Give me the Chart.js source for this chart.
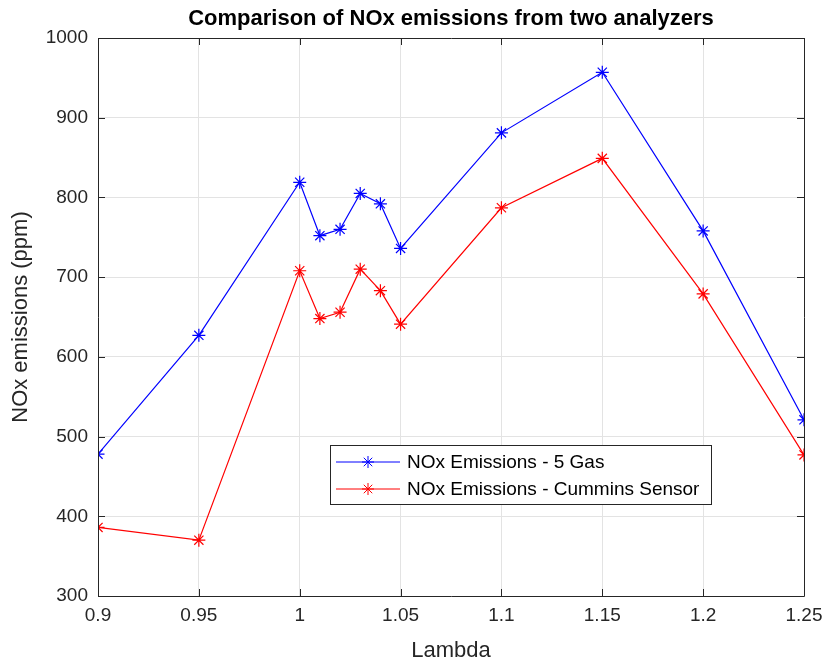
<!DOCTYPE html>
<html>
<head>
<meta charset="utf-8">
<script src="https://cdn.jsdelivr.net/npm/chart.js@4.4.1/dist/chart.umd.min.js"></script>
<style>
  html, body { margin: 0; padding: 0; background: #fff; }
  #wrap { width: 824px; height: 664px; }
</style>
</head>
<body>
<div id="wrap"><canvas id="noxChart" width="824" height="664"></canvas></div>
<script>
// data
const lambda = [0.9, 0.95, 1.0, 1.01, 1.02, 1.03, 1.04, 1.05, 1.1, 1.15, 1.2, 1.25];
const fiveGas = [478, 627, 819, 752, 760, 805, 792, 736, 881, 957, 758, 521];
const cummins = [386, 370, 708, 648, 656, 710, 683, 641, 787, 849, 679, 477];
const xTicks = [0.9, 0.95, 1, 1.05, 1.1, 1.15, 1.2, 1.25];
const yTicks = [300, 400, 500, 600, 700, 800, 900, 1000];
const chartTitle = 'Comparison of NOx emissions from two analyzers';

const axisColor = '#262626';
const gridColor = '#e3e3e3';
const fontFam = '"Liberation Sans", Arial, sans-serif';

// title centred over the plot area, like matlab does it
const titlePlugin = {
  id: 'titlePlugin',
  afterDraw(chart) {
    const { ctx, chartArea: a } = chart;
    ctx.save();
    ctx.font = 'bold 22px ' + fontFam;
    ctx.fillStyle = '#000';
    ctx.textAlign = 'center';
    ctx.textBaseline = 'middle';
    ctx.fillText(chartTitle, (a.left + a.right) / 2, a.top - 19);
    ctx.restore();
  }
};

// box around the axes + inward tick marks
const boxPlugin = {
  id: 'boxPlugin',
  afterDatasetsDraw(chart) {
    const { ctx, chartArea: a, scales } = chart;
    ctx.save();
    ctx.strokeStyle = axisColor;
    ctx.lineWidth = 1;
    ctx.beginPath();
    ctx.rect(a.left + 0.5, a.top + 0.5, a.right - a.left, a.bottom - a.top);
    xTicks.forEach(v => {
      const px = Math.round(scales.x.getPixelForValue(v)) + 0.5;
      ctx.moveTo(px, a.bottom); ctx.lineTo(px, a.bottom - 7);
      ctx.moveTo(px, a.top); ctx.lineTo(px, a.top + 7);
    });
    yTicks.forEach(v => {
      const py = Math.round(scales.y.getPixelForValue(v)) + 0.5;
      ctx.moveTo(a.left, py); ctx.lineTo(a.left + 7, py);
      ctx.moveTo(a.right, py); ctx.lineTo(a.right - 7, py);
    });
    ctx.stroke();
    ctx.restore();
  }
};

// legend box inside the plot
const legendBox = {
  id: 'legendBox',
  afterDraw(chart) {
    const { ctx, chartArea: a } = chart;
    const x0 = a.left + 232, y0 = a.top + 407, w = 381, h = 59;
    ctx.save();
    ctx.fillStyle = '#fff';
    ctx.fillRect(x0, y0, w, h);
    ctx.strokeStyle = axisColor;
    ctx.lineWidth = 1;
    ctx.strokeRect(x0 + 0.5, y0 + 0.5, w, h);
    ctx.font = '19px ' + fontFam;
    ctx.textBaseline = 'middle';
    chart.data.datasets.forEach((ds, i) => {
      const cy = y0 + 17 + i * 27;
      ctx.strokeStyle = ds.borderColor;
      ctx.fillStyle = ds.borderColor;
      ctx.beginPath();
      ctx.moveTo(x0 + 6, cy); ctx.lineTo(x0 + 70, cy);
      ctx.stroke();
      Chart.helpers.drawPoint(ctx, { pointStyle: 'star', radius: 6, rotation: 0, borderWidth: 1.2 }, x0 + 38, cy);
      ctx.fillStyle = '#000';
      ctx.fillText(ds.label, x0 + 77, cy + 1);
    });
    ctx.restore();
  }
};

function makeSet(label, vals, color) {
  return {
    label: label,
    data: lambda.map((l, i) => ({ x: l, y: vals[i] })),
    borderColor: color,
    backgroundColor: color,
    borderWidth: 1.2,
    pointStyle: 'star',
    pointRadius: 6.5,
    pointBorderWidth: 1.2,
    pointBorderColor: color,
    tension: 0
  };
}

new Chart(document.getElementById('noxChart'), {
  type: 'line',
  data: {
    datasets: [
      makeSet('NOx Emissions - 5 Gas', fiveGas, '#0000ff'),
      makeSet('NOx Emissions - Cummins Sensor', cummins, '#ff0000')
    ]
  },
  options: {
    responsive: false,
    animation: false,
    layout: { padding: { left: 0, right: 20, top: 38, bottom: 0 } },
    plugins: {
      legend: { display: false },
      tooltip: { enabled: false },
      title: { display: false }
    },
    scales: {
      x: {
        type: 'linear',
        min: 0.9,
        max: 1.25,
        afterBuildTicks: s => { s.ticks = xTicks.map(v => ({ value: v })); },
        afterFit: s => { s.height = 68; s.paddingLeft = 0; s.paddingRight = 0; },
        ticks: {
          color: axisColor,
          font: { family: fontFam, size: 19 },
          padding: 8,
          maxRotation: 0,
          callback: v => String(v)
        },
        grid: { color: gridColor, drawTicks: false },
        border: { display: false },
        title: {
          display: true,
          text: 'Lambda',
          color: axisColor,
          font: { family: fontFam, size: 22 },
          padding: { top: 0, bottom: 0 }
        }
      },
      y: {
        min: 300,
        max: 1000,
        afterBuildTicks: s => { s.ticks = yTicks.map(v => ({ value: v })); },
        afterFit: s => { s.width = 98; },
        ticks: {
          color: axisColor,
          font: { family: fontFam, size: 19 },
          padding: 10,
          callback: v => String(v)
        },
        grid: { color: gridColor, drawTicks: false },
        border: { display: false },
        title: {
          display: true,
          text: 'NOx emissions (ppm)',
          color: axisColor,
          font: { family: fontFam, size: 22 },
          padding: { top: 8, bottom: 0 }
        }
      }
    }
  },
  plugins: [boxPlugin, legendBox, titlePlugin]
});
</script>
</body>
</html>
